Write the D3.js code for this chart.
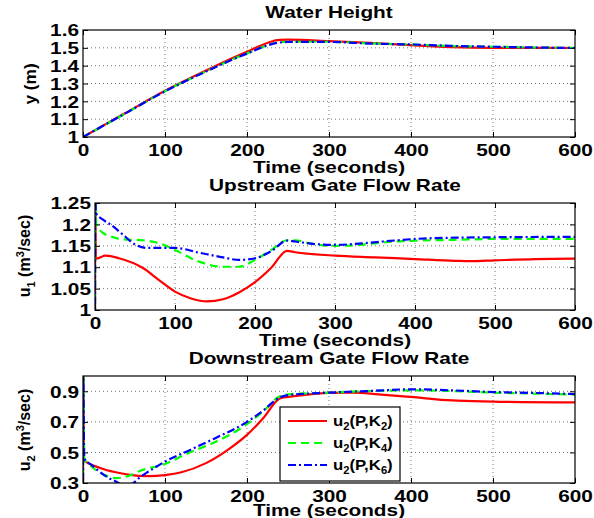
<!DOCTYPE html>
<html><head><meta charset="utf-8">
<script src="https://cdn.jsdelivr.net/npm/d3@7"></script>
<style>
body{margin:0;background:#fff;}
svg text{font-family:"Liberation Sans",Arial,Helvetica,sans-serif;font-weight:bold;fill:#000;}
</style></head>
<body><svg id="c" width="594" height="518"></svg>
<script>
// ---------- data ----------
const xTicks = [0,100,200,300,400,500,600];
const yTicksHeight = [1,1.1,1.2,1.3,1.4,1.5,1.6];
const yTicksU1 = [1,1.05,1.1,1.15,1.2,1.25];
const yTicksU2 = [0.3,0.5,0.7,0.9];
const seriesNames = ["K2","K4","K6"];

const tHeight = [0,50,100,150,200,240,250,300,350,400,450,500,550,600];
const heightK2 = [1.0,1.13,1.259,1.373,1.478,1.545,1.546,1.538,1.528,1.515,1.504,1.500,1.500,1.499];
const heightK4 = [1.0,1.128,1.257,1.368,1.469,1.531,1.534,1.534,1.525,1.519,1.510,1.506,1.502,1.500];
const heightK6 = [1.0,1.128,1.256,1.367,1.468,1.530,1.533,1.533,1.524,1.519,1.511,1.506,1.502,1.499];

const tU1K2 = [0,0.3,1,13,30,60,80,100,120,140,160,180,200,220,240,250,300,350,400,450,470,500,550,600];
const u1K2 = [0.9,1.3,1.12,1.127,1.121,1.098,1.07,1.043,1.027,1.02,1.025,1.041,1.065,1.098,1.138,1.135,1.127,1.123,1.119,1.115,1.114,1.116,1.119,1.12];
const tU1K4 = [0,0.3,1.5,10,20,35,60,80,100,130,160,180,200,220,240,250,270,300,330,360,400,450,500,600];
const u1K4 = [0.9,1.3,1.2,1.18,1.172,1.165,1.163,1.156,1.14,1.113,1.101,1.101,1.117,1.14,1.163,1.163,1.155,1.15,1.152,1.158,1.162,1.164,1.166,1.166];
const tU1K6 = [0,0.3,1,10,20,35,50,65,80,100,130,160,180,200,220,240,250,270,300,330,360,400,450,500,600];
const u1K6 = [0.9,1.3,1.227,1.211,1.199,1.176,1.153,1.145,1.145,1.145,1.134,1.123,1.117,1.121,1.137,1.162,1.16,1.155,1.152,1.155,1.16,1.166,1.169,1.17,1.171];

const tU2K2 = [0,0.3,1,20,40,55,80,100,120,150,180,200,220,240,250,260,300,330,360,400,450,500,600];
const u2K2 = [0,1.05,0.45,0.40,0.37,0.355,0.345,0.352,0.37,0.43,0.53,0.615,0.725,0.853,0.863,0.87,0.89,0.891,0.88,0.863,0.84,0.833,0.827];
const tU2K4 = [0,0.3,1.5,10,20,30,40,55,70,100,130,160,200,220,240,250,300,350,400,450,500,550,600];
const u2K4 = [0,1.05,0.46,0.41,0.37,0.345,0.332,0.345,0.38,0.425,0.5,0.565,0.685,0.77,0.868,0.88,0.891,0.902,0.906,0.902,0.891,0.885,0.878];
const tU2K6 = [0,0.3,1.5,10,20,30,40,50,60,70,80,100,130,160,200,220,240,250,300,350,400,450,500,550,600];
const u2K6 = [0,1.05,0.46,0.42,0.375,0.337,0.31,0.285,0.295,0.34,0.375,0.44,0.515,0.59,0.7,0.775,0.86,0.875,0.891,0.902,0.913,0.906,0.895,0.889,0.882];

// ---------- styles ----------
const colors = {K2:"#ff0000",K4:"#00ff00",K6:"#0000ff"};
const dashes = {K2:null,K4:"8,5",K6:"8,3,2,3"};
const SX = 1.3;   // horizontal stretch of the bold labels

const svg = d3.select("#c");
const fmt = d3.format("~g");

function label(parent,x,y,str,size,rot,sx){
  const g = parent.append("g").attr("transform",`translate(${x},${y})${rot?" rotate(-90)":""}`);
  return g.append("text").attr("transform",`scale(${sx||SX},1)`).attr("text-anchor","middle").attr("font-size",size).text(str||"");
}

function panel(cfg){
  const x = d3.scaleLinear().domain([0,600]).range([cfg.left,575]);
  const y = d3.scaleLinear().domain(cfg.ydom).range([cfg.bottom,cfg.top]);
  const g = svg.append("g");
  const id = "clip"+cfg.id;
  svg.append("clipPath").attr("id",id).append("rect")
    .attr("x",cfg.left).attr("y",cfg.top).attr("width",575-cfg.left).attr("height",cfg.bottom-cfg.top);
  const grid = g.append("g").attr("stroke","#000").attr("stroke-opacity",0.55).attr("stroke-width",1).attr("stroke-dasharray","1,3");
  xTicks.slice(1,-1).forEach(t=>grid.append("line").attr("x1",x(t)).attr("x2",x(t)).attr("y1",cfg.top).attr("y2",cfg.bottom));
  cfg.yticks.forEach(t=>{ if(y(t)>cfg.top+0.5 && y(t)<cfg.bottom-0.5) grid.append("line").attr("x1",cfg.left).attr("x2",575).attr("y1",y(t)).attr("y2",y(t));});
  const line = d3.line().x(d=>x(d[0])).y(d=>y(d[1])).curve(d3.curveMonotoneX);
  const lg = g.append("g").attr("clip-path",`url(#${id})`);
  cfg.series.forEach(s=>{
    lg.append("path").datum(d3.zip(s.t,s.v)).attr("d",line)
      .attr("fill","none").attr("stroke",colors[s.k]).attr("stroke-width",2.2)
      .attr("stroke-dasharray",dashes[s.k]);
  });
  const ax = g.append("g").attr("transform",`translate(0,${cfg.bottom})`)
    .call(d3.axisBottom(x).tickValues(xTicks).tickFormat(fmt).tickSize(-5).tickSizeOuter(0));
  const axT = g.append("g").attr("transform",`translate(0,${cfg.top})`)
    .call(d3.axisTop(x).tickValues(xTicks).tickFormat("").tickSize(-5).tickSizeOuter(0));
  const ay = g.append("g").attr("transform",`translate(${cfg.left},0)`)
    .call(d3.axisLeft(y).tickValues(cfg.yticks).tickFormat(fmt).tickSize(-5).tickSizeOuter(0));
  const ayR = g.append("g").attr("transform",`translate(575,0)`)
    .call(d3.axisRight(y).tickValues(cfg.yticks).tickFormat("").tickSize(-5).tickSizeOuter(0));
  [ax,axT,ay,ayR].forEach(a=>{a.select(".domain").remove(); a.selectAll("line").attr("stroke","#000"); a.selectAll("text").attr("font-size",16).attr("font-family",null).style("font-weight","bold");});
  ax.selectAll("text").attr("dy",null).attr("y",19).attr("transform",`scale(${SX},1)`);
  ay.selectAll("text").attr("dy","0.36em").attr("x",-4/SX).attr("transform",`scale(${SX},1)`);
  g.append("rect").attr("x",cfg.left).attr("y",cfg.top).attr("width",575-cfg.left).attr("height",cfg.bottom-cfg.top)
    .attr("fill","none").attr("stroke","#000").attr("stroke-width",1.2);
  label(g,(cfg.left+575)/2,cfg.top-12,cfg.title,16);
  label(g,(cfg.left+575)/2,Math.min(cfg.bottom+36,516),"Time (seconds)",16);
  return {x,y,g};
}

panel({id:1,left:83,top:30,bottom:137,ydom:[1,1.6],yticks:yTicksHeight,title:"Water Height",
  series:[{k:"K2",t:tHeight,v:heightK2},{k:"K4",t:tHeight,v:heightK4},{k:"K6",t:tHeight,v:heightK6}]});
panel({id:2,left:95,top:203,bottom:310,ydom:[1,1.25],yticks:yTicksU1,title:"Upstream Gate Flow Rate",
  series:[{k:"K2",t:tU1K2,v:u1K2},{k:"K4",t:tU1K4,v:u1K4},{k:"K6",t:tU1K6,v:u1K6}]});
panel({id:3,left:83,top:376,bottom:483,ydom:[0.3,1.0],yticks:yTicksU2,title:"Downstream Gate Flow Rate",
  series:[{k:"K2",t:tU2K2,v:u2K2},{k:"K4",t:tU2K4,v:u2K4},{k:"K6",t:tU2K6,v:u2K6}]});

// y labels
label(svg,36,84,"y (m)",16,true,1.08);
function uLabel(cx,cy,sub){
  const t = label(svg,cx,cy,"",16,true,1.0);
  t.append("tspan").text("u");
  t.append("tspan").attr("font-size",11).attr("dy",5).text(sub);
  t.append("tspan").attr("dy",-5).text(" (m");
  t.append("tspan").attr("font-size",11).attr("dy",-6).text("3");
  t.append("tspan").attr("dy",6).text("/sec)");
}
uLabel(30,256,"1");
uLabel(30,430,"2");

// legend
const lgd = svg.append("g");
lgd.append("rect").attr("x",280).attr("y",407).attr("width",120).attr("height",74).attr("fill","#fff").attr("stroke","#000").attr("stroke-width",1.2);
seriesNames.forEach((k,i)=>{
  const yy = 421 + i*22;
  lgd.append("line").attr("x1",288).attr("x2",327).attr("y1",yy).attr("y2",yy)
    .attr("stroke",colors[k]).attr("stroke-width",2.2).attr("stroke-dasharray",dashes[k]);
  const g = lgd.append("g").attr("transform",`translate(333,${yy+5})`);
  const t = g.append("text").attr("transform","scale(1.12,1)").attr("font-size",15);
  t.append("tspan").text("u");
  t.append("tspan").attr("font-size",10).attr("dy",4).text("2");
  t.append("tspan").attr("dy",-4).text("(P,K");
  t.append("tspan").attr("font-size",10).attr("dy",4).text(k.slice(1));
  t.append("tspan").attr("dy",-4).text(")");
});
</script></body></html>
